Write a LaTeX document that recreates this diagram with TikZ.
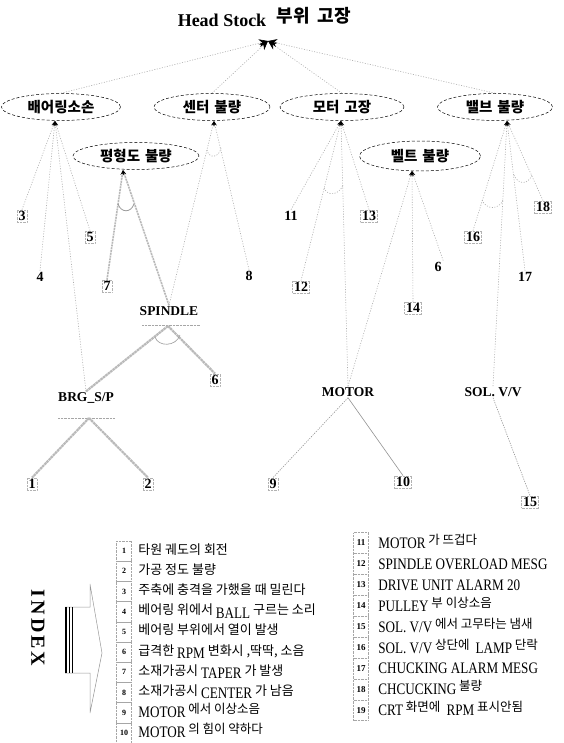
\documentclass[tikz,border=0pt]{standalone}
\usepackage{fontspec}
\setmainfont{Liberation Serif}
\newfontfamily\kr{Noto Sans CJK KR}
\newfontfamily\ixl[FakeStretch=0.82]{Liberation Serif}
\usetikzlibrary{shapes.geometric,arrows.meta}
\newcommand\KR[1]{\raisebox{4pt}{\kr\fontsize{12.5}{12.5}\selectfont #1}}
\newcommand\KK[1]{{\kr\fontsize{13}{13}\selectfont #1}}
\newcommand\LL[1]{\raisebox{-3.5pt}{\ixl #1}}
\begin{document}
\begin{tikzpicture}[x=1pt,y=-1pt,
  ell/.style={ellipse, draw, densely dashed, line width=0.5pt, inner sep=0pt, font=\kr\bfseries\fontsize{14.5}{14.5}\selectfont},
  link/.style={draw=gray!65, dash pattern=on 1pt off 1.6pt, line width=0.6pt},
  dlink/.style={draw=gray!85, dash pattern=on 1.2pt off 1.2pt, line width=0.6pt},
  thickl/.style={draw=gray!55, line width=2.2pt, dash pattern=on 2.5pt off 0.6pt},
  pl/.style={draw=gray!55, line width=1.6pt, dash pattern=on 2pt off 0.8pt},
  arr/.style={-{Stealth[length=5pt,width=3.5pt,black]}},
  bigarr/.style={-{Stealth[length=9pt,width=8pt,black]}},
  num/.style={font=\bfseries\fontsize{14}{14}\selectfont, draw=gray!60, densely dotted, line width=0.4pt, inner sep=1.5pt},
  numnb/.style={font=\bfseries\fontsize{14}{14}\selectfont, inner sep=1.5pt},
  lab/.style={font=\bfseries\fontsize{13.5}{13.5}\selectfont, inner sep=1pt},
  ibox/.style={draw=gray!70, densely dotted, line width=0.4pt, minimum width=15pt, minimum height=20.2pt, inner sep=0pt, font=\bfseries\fontsize{8}{8}\selectfont},
  itxt/.style={anchor=base west, inner sep=0pt, font=\ixl\fontsize{16}{16}\selectfont}
]
\fill[white] (0,0) rectangle (563,743);
\useasboundingbox (0,0) rectangle (563,743);

% title
\node[font=\bfseries\fontsize{18}{18}\selectfont] (hs) at (222,20) {Head Stock};
\node[font=\kr\bfseries\fontsize{18}{18}\selectfont] (hsk) at (314,16) {부위\hspace{8pt}고장};
\coordinate (top) at (268,41);

% ellipses
\node[ell, minimum width=119pt, minimum height=27pt] (e1) at (61,107) {배어링소손};
\node[ell, minimum width=116pt, minimum height=27pt] (e2) at (212,107) {센터\hspace{5pt}불량};
\node[ell, minimum width=124pt, minimum height=27pt] (e3) at (342,107) {모터\hspace{5pt}고장};
\node[ell, minimum width=115pt, minimum height=27pt] (e4) at (495,107) {밸브\hspace{5pt}불량};
\node[ell, minimum width=126pt, minimum height=27pt] (p) at (136,156) {평형도\hspace{5pt}불량};
\node[ell, minimum width=121pt, minimum height=30pt] (b) at (420,156) {벨트\hspace{5pt}불량};

\coordinate (a1) at (55,121);
\coordinate (a2) at (214,121);
\coordinate (a3) at (341,121);
\coordinate (a4) at (507,121);
\coordinate (pa) at (123,170);
\coordinate (ba) at (412,171);

\foreach \e in {e1,e2,e3,e4} \draw[link,bigarr] (\e.north) -- (top);

% number nodes
\node[num] (n3) at (22,216) {3};
\node[numnb] (n4) at (40,277) {4};
\node[num] (n5) at (90,237) {5};
\node[num] (n7) at (107,286) {7};
\node[numnb] (n8) at (249,276) {8};
\node[num] (n6a) at (215,380) {6};
\node[num] (n1) at (32,484) {1};
\node[num] (n2) at (148,484) {2};
\node[num] (n9) at (273,484) {9};
\node[numnb] (n11) at (291,216) {11};
\node[num] (n13) at (369,216) {13};
\node[num] (n12) at (301,287) {12};
\node[numnb] (n6b) at (438,267) {6};
\node[num] (n14) at (413,308) {14};
\node[num] (n16) at (473,237) {16};
\node[num] (n18) at (543,207) {18};
\node[numnb] (n17) at (525,277) {17};
\node[num] (n10) at (403,482) {10};
\node[num] (n15) at (530,502) {15};

% labels
\node[lab] (sp) at (169,311) {SPINDLE};
\node[lab] (brg) at (86,398) {BRG\_S/P};
\node[lab] (mot) at (348,392) {MOTOR};
\node[lab] (sol) at (493,392) {SOL. V/V};
\draw[gray!70, densely dotted] (142,325) -- (200,325);
\draw[gray!70, densely dotted] (58,418) -- (115,418);
\coordinate (sj) at (168,326);
\coordinate (bj) at (89,418);

% e1
\draw[link,arr] (n3.north) -- (a1);
\draw[link,arr] (n4.north) -- (a1);
\draw[link,arr] (n5.north) -- (a1);
\draw[link,arr] (brg.north) -- (a1);
% e2
\draw[link,arr] (n8.north) -- (a2);
\draw[link,arr] (sp.north) -- (a2);
\draw[link] (207,150) .. controls (209,159) and (219,158) .. (221,148);
% p
\draw[pl,arr] (n7.north) -- (pa);
\draw[pl,arr] (sp.north) -- (pa);
\draw[draw=gray!80, line width=0.8pt] (118,204) .. controls (121,213) and (131,213) .. (134,204);
% spindle / brg
\draw[thickl] (sj) -- (brg.north);
\draw[thickl] (sj) -- (n6a.north);
\draw[gray!80, line width=0.6pt] (155,337) .. controls (158,347) and (176,347) .. (180,335);
\draw[thickl] (bj) -- (n1.north);
\draw[thickl] (bj) -- (n2.north);
% e3
\draw[link,arr] (n11.north) -- (a3);
\draw[link,arr] (n12.north) -- (a3);
\draw[link,arr] (n13.north) -- (a3);
\draw[link,arr] (mot.north) -- (a3);
\draw[link] (324,188) .. controls (328,197) and (339,195) .. (343,185);
% belt
\draw[link,arr] (n14.north) -- (ba);
\draw[link,arr] (n6b.north east) -- (ba);
\draw[link,arr] (mot.north) -- (ba);
% e4
\draw[link,arr] (n16.north) -- (a4);
\draw[link,arr] (n17.north) -- (a4);
\draw[link,arr] (n18.north) -- (a4);
\draw[link,arr] (sol.north) -- (a4);
\draw[link] (482,200) .. controls (486,210) and (499,210) .. (503,200);
\draw[link] (514,175) .. controls (518,185) and (528,185) .. (532,175);
% motor / sol children
\draw[dlink] (mot.south) -- (n9.north);
\draw[draw=gray!85, line width=0.6pt] (mot.south) -- (n10.north);
\draw[dlink] (sol.south) -- (n15.north);

% INDEX
\node[rotate=-90, font=\bfseries\fontsize{20}{20}\selectfont] (idx) at (38,628) {I\hspace{3pt}N\hspace{3pt}D\hspace{3pt}E\hspace{3pt}X};
\draw[line width=0.5pt, draw=gray!80] (65,607) -- (90,607) -- (90,584) -- (102,653) -- (90,713) -- (90,673) -- (65,673);
\draw[line width=1.6pt] (66,607) -- (66,673);
\draw[line width=1.2pt] (69.5,607) -- (69.5,673);
\draw[line width=0.7pt] (72.5,607) -- (72.5,673);

\foreach \i in {1,...,10} \node[ibox] (L\i) at (124,{551+20.2*(\i-1)}) {\i};
\foreach \i in {11,...,19} \node[ibox, minimum height=20.9pt, font=\bfseries\fontsize{9}{9}\selectfont] (R\i) at (361,{543+20.9*(\i-11)}) {\i};

\node[itxt] (t1) at ([xshift=6.5pt,yshift=-3pt]L1.east) {\KK{타원 궤도의 회전}};
\node[itxt] (t2) at ([xshift=6.5pt,yshift=-3pt]L2.east) {\KK{가공 정도 불량}};
\node[itxt] (t3) at ([xshift=6.5pt,yshift=-3pt]L3.east) {\KK{주축에 충격을 가했을 때 밀린다}};
\node[itxt] (t4) at ([xshift=6.5pt,yshift=-3pt]L4.east) {\KK{베어링 위에서 }\LL{BALL}\KK{ 구르는 소리}};
\node[itxt] (t5) at ([xshift=6.5pt,yshift=-3pt]L5.east) {\KK{베어링 부위에서 열이 발생}};
\node[itxt] (t6) at ([xshift=6.5pt,yshift=-3pt]L6.east) {\KK{급격한 }\LL{RPM}\KK{ 변화시 ,딱딱, 소음}};
\node[itxt] (t7) at ([xshift=6.5pt,yshift=-3pt]L7.east) {\KK{소재가공시 }\LL{TAPER}\KK{ 가 발생}};
\node[itxt] (t8) at ([xshift=6.5pt,yshift=-3pt]L8.east) {\KK{소재가공시 }\LL{CENTER}\KK{ 가 남음}};
\node[itxt] (t9) at ([xshift=6.5pt,yshift=-5pt]L9.east) {MOTOR\KR{ 에서 이상소음}};
\node[itxt] (t10) at ([xshift=6.5pt,yshift=-5pt]L10.east) {MOTOR\KR{ 의 힘이 약하다}};

\node[itxt] (t11) at ([xshift=9.5pt,yshift=-5.5pt]R11.east) {MOTOR\KR{ 가 뜨겁다}};
\node[itxt] (t12) at ([xshift=9.5pt,yshift=-5.5pt]R12.east) {SPINDLE OVERLOAD MESG};
\node[itxt] (t13) at ([xshift=9.5pt,yshift=-5.5pt]R13.east) {DRIVE UNIT ALARM 20};
\node[itxt] (t14) at ([xshift=9.5pt,yshift=-5.5pt]R14.east) {PULLEY\KR{ 부 이상소음}};
\node[itxt] (t15) at ([xshift=9.5pt,yshift=-5.5pt]R15.east) {SOL. V/V\KR{ 에서 고무타는 냄새}};
\node[itxt] (t16) at ([xshift=9.5pt,yshift=-5.5pt]R16.east) {SOL. V/V\KR{ 상단에 } LAMP\KR{ 단락}};
\node[itxt] (t17) at ([xshift=9.5pt,yshift=-5.5pt]R17.east) {CHUCKING ALARM MESG};
\node[itxt] (t18) at ([xshift=9.5pt,yshift=-5.5pt]R18.east) {CHCUCKING\KR{ 불량}};
\node[itxt] (t19) at ([xshift=9.5pt,yshift=-5.5pt]R19.east) {CRT\KR{ 화면에 } RPM\KR{ 표시안됨}};
\end{tikzpicture}
\end{document}
